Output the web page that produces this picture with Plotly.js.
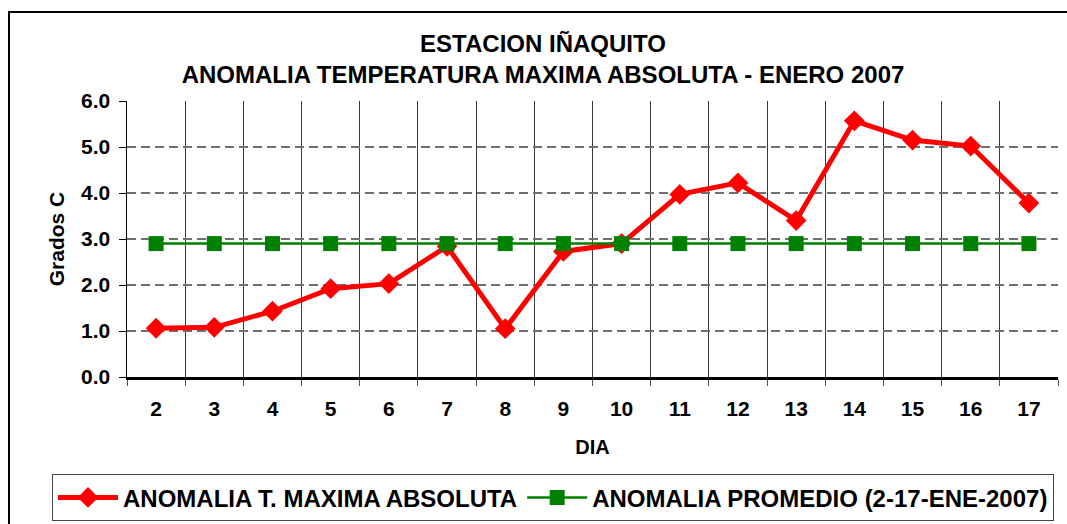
<!DOCTYPE html>
<html>
<head>
<meta charset="utf-8">
<script src="https://cdn.plot.ly/plotly-3.0.1.min.js"></script>
<style>
  html, body { margin: 0; padding: 0; background: #fff; overflow: hidden; }
  #wrap { position: relative; width: 1067px; height: 524px; overflow: hidden; }
  #chart { position: absolute; left: 0; top: 0; width: 1067px; height: 524px; }
  #frame { position: absolute; left: 8px; top: 11px; width: 3000px; height: 3000px;
           border: 2px solid #000; pointer-events: none; box-sizing: border-box; }
</style>
</head>
<body>
<div id="wrap">
  <div id="chart"></div>
  <div id="frame"></div>
</div>
<script>
const dias = ["2","3","4","5","6","7","8","9","10","11","12","13","14","15","16","17"];
const anomaliaMax = [1.06, 1.08, 1.43, 1.92, 2.03, 2.84, 1.05, 2.73, 2.90, 3.97, 4.22, 3.40, 5.57, 5.15, 5.02, 3.78];
const anomaliaProm = [2.90, 2.90, 2.90, 2.90, 2.90, 2.90, 2.90, 2.90, 2.90, 2.90, 2.90, 2.90, 2.90, 2.90, 2.90, 2.90];
const yTicks = [0, 1, 2, 3, 4, 5, 6];
const yTickText = ["0.0", "1.0", "2.0", "3.0", "4.0", "5.0", "6.0"];

const FONT = "Liberation Sans, Arial, sans-serif";

const traces = [
  {
    x: dias, y: anomaliaMax, type: "scatter", mode: "lines+markers",
    name: "ANOMALIA T. MAXIMA ABSOLUTA",
    line: { color: "#FF0000", width: 5 },
    marker: { symbol: "diamond", size: 16, color: "#FF0000" }
  },
  {
    x: dias, y: anomaliaProm, type: "scatter", mode: "lines+markers",
    name: "ANOMALIA PROMEDIO (2-17-ENE-2007)",
    line: { color: "#008000", width: 2.5 },
    marker: { symbol: "square", size: 15, color: "#008000" }
  }
];

const layout = {
  width: 1067, height: 524,
  margin: { l: 127, r: 9, t: 101, b: 147, pad: 0, autoexpand: false },
  paper_bgcolor: "rgba(0,0,0,0)",
  plot_bgcolor: "#fff",
  font: { family: FONT, color: "#000" },
  title: {
    text: "<b>ESTACION IÑAQUITO</b><br><b>ANOMALIA TEMPERATURA MAXIMA ABSOLUTA - ENERO 2007</b>",
    font: { family: FONT, size: 24, color: "#000" },
    x: 543 / 1067, xref: "container", xanchor: "center",
    y: 1 - 52 / 524, yref: "container", yanchor: "top"
  },
  xaxis: {
    type: "category",
    range: [-0.5, dias.length - 0.5],
    tickson: "boundaries",
    showgrid: true, gridcolor: "#3a3a3a", gridwidth: 1,
    ticks: "outside", ticklen: 6, tickcolor: "#555", tickwidth: 1,
    showline: true, linecolor: "#000", linewidth: 2.5,
    tickfont: { family: FONT, size: 21, color: "#000", weight: "bold" },
    ticklabelstandoff: 11,
    title: { text: "<b>DIA</b>", font: { family: FONT, size: 20, color: "#000" }, standoff: 22 },
    fixedrange: true
  },
  yaxis: {
    range: [0, 6],
    tickvals: yTicks, ticktext: yTickText,
    showgrid: true, gridcolor: "#707070", gridwidth: 1.5, griddash: "9px,5px",
    zeroline: false,
    ticks: "outside", ticklen: 7, tickcolor: "#000", tickwidth: 1,
    showline: true, linecolor: "#000", linewidth: 1.5,
    tickfont: { family: FONT, size: 21, color: "#000", weight: "bold" },
    ticklabelstandoff: 4,
    title: { text: "<b>Grados C</b>", font: { family: FONT, size: 21, color: "#000" }, standoff: 10 },
    fixedrange: true
  },
  showlegend: true,
  legend: {
    orientation: "h",
    x: (52 - 127) / 931, xanchor: "left",
    y: (376.7 - 474) / 276, yanchor: "top",
    bordercolor: "#444", borderwidth: 1,
    bgcolor: "#fff",
    font: { family: FONT, size: 24, color: "#000", weight: "bold" },
    itemwidth: 60,
    tracegroupgap: 0
  }
};

Plotly.newPlot("chart", traces, layout, { displayModeBar: false, staticPlot: true });
</script>
</body>
</html>
